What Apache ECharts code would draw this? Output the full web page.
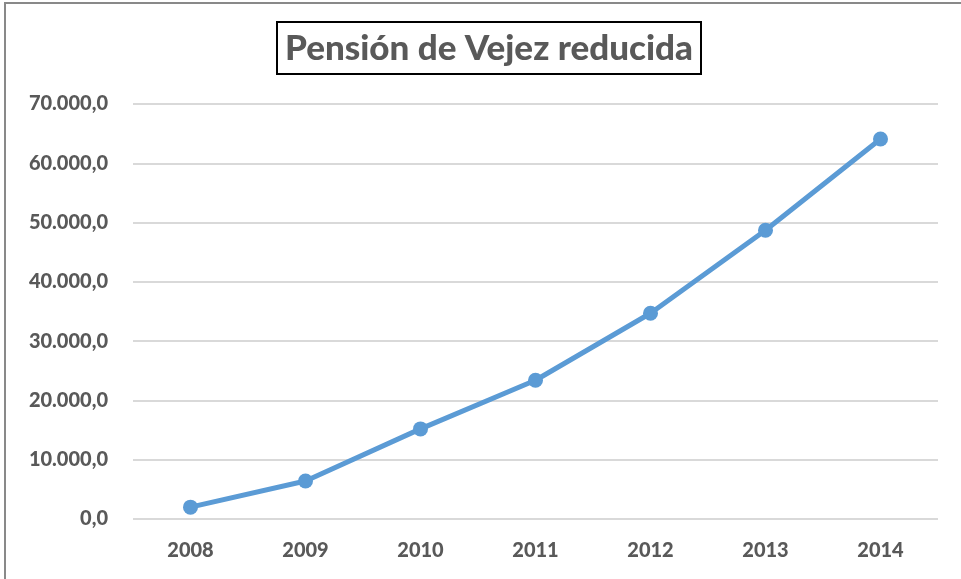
<!DOCTYPE html>
<html>
<head>
<meta charset="utf-8">
<script src="https://cdn.jsdelivr.net/npm/echarts@6/dist/echarts.min.js"></script>
<style>
  html, body { margin: 0; padding: 0; background: #fff; overflow: hidden; }
  #frame { position: absolute; left: 4px; top: 2px; width: 1000px; height: 1000px; border: 2px solid #898989; }
  #chart { position: absolute; left: 0; top: 0; width: 961px; height: 579px; }
</style>
</head>
<body>
<div id="frame"></div>
<div id="chart"></div>
<script>
var years = ['2008', '2009', '2010', '2011', '2012', '2013', '2014'];
var pensiones = [2000, 6400, 15200, 23400, 34700, 48700, 64100];

document.addEventListener('DOMContentLoaded', function () {
    var myChart = echarts.init(document.getElementById('chart'));
    var option;

    option = {
        backgroundColor: 'transparent',
        title: {
            text: 'Pensión de Vejez reducida',
            left: 277,
            top: 22,
            padding: [9, 8, 8, 8],
            borderColor: '#000',
            borderWidth: 2,
            textStyle: {
                fontFamily: 'Lato',
                fontSize: 35,
                fontWeight: 900,
                color: '#595959'
            }
        },
        grid: {
            left: 133,
            right: 23,
            top: 104,
            bottom: 60
        },
        xAxis: {
            type: 'category',
            data: years,
            axisLine: { show: false },
            axisTick: { show: false },
            axisLabel: {
                margin: 22,
                fontFamily: 'Lato',
                fontSize: 20,
                fontWeight: 900,
                color: '#595959'
            }
        },
        yAxis: {
            type: 'value',
            min: 0,
            max: 70000,
            interval: 10000,
            axisLabel: {
                margin: 25,
                fontFamily: 'Lato',
                fontSize: 20,
                fontWeight: 900,
                color: '#595959',
                formatter: function (v) {
                    return v.toString().replace(/\B(?=(\d{3})+(?!\d))/g, '.') + ',0';
                }
            },
            splitLine: { lineStyle: { color: '#d9d9d9', width: 2 } }
        },
        series: [
            {
                type: 'line',
                data: pensiones,
                symbol: 'circle',
                symbolSize: 15,
                lineStyle: { color: '#5b9bd5', width: 5 },
                itemStyle: { color: '#5b9bd5' },
                animation: false
            }
        ]
    };

    option && myChart.setOption(option);
});
</script>
</body>
</html>
